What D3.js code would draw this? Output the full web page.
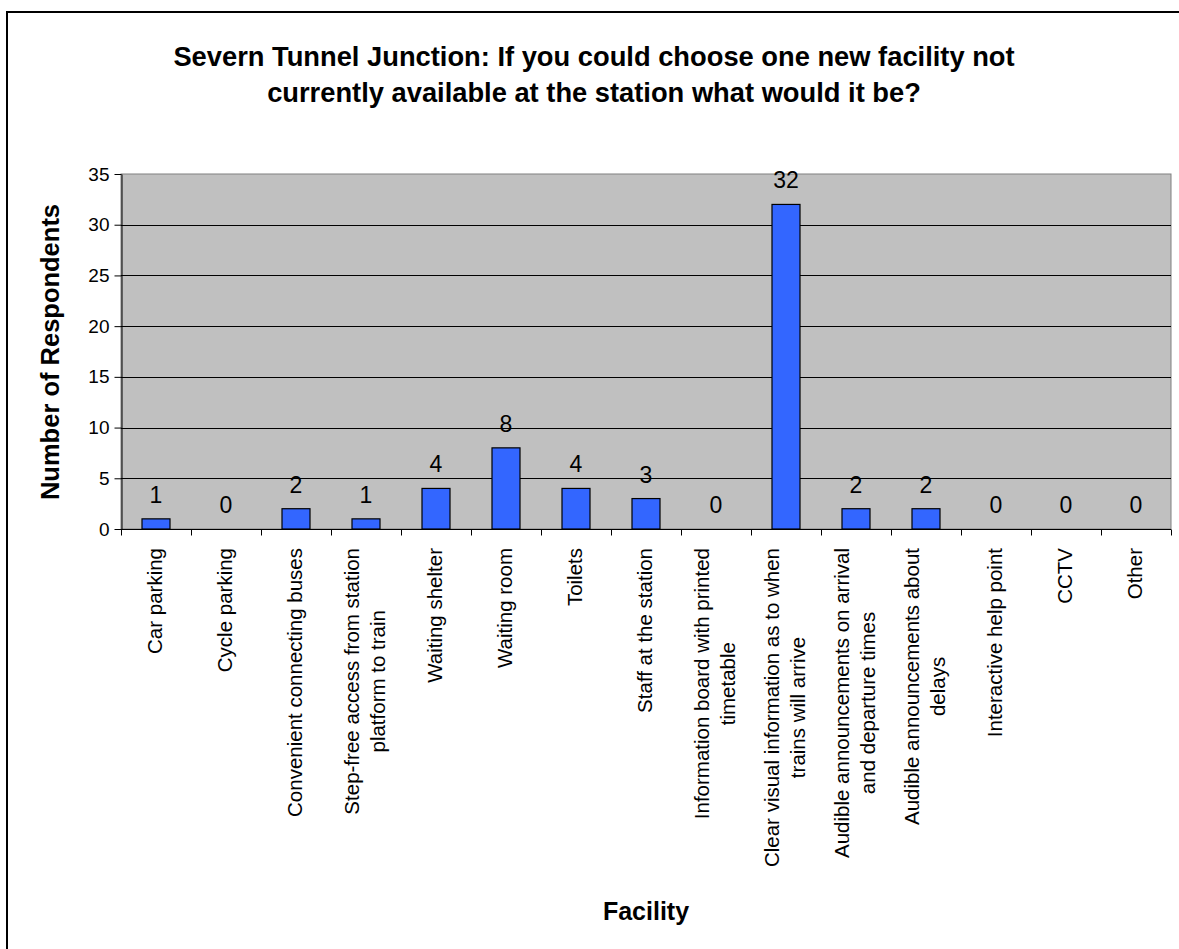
<!DOCTYPE html>
<html>
<head>
<meta charset="utf-8">
<script src="https://cdn.jsdelivr.net/npm/d3@7"></script>
<style>
  html, body { margin: 0; padding: 0; background: #ffffff; }
  svg { display: block; }
  text { font-family: "Liberation Sans", Arial, "DejaVu Sans", sans-serif; fill: #000; }
</style>
</head>
<body>
<svg id="chart" width="1179" height="949"></svg>
<script>
// Survey responses per facility (line breaks mark wrapped axis labels)
const categories = [
  "Car parking",
  "Cycle parking",
  "Convenient connecting buses",
  "Step-free access from station\nplatform to train",
  "Waiting shelter",
  "Waiting room",
  "Toilets",
  "Staff at the station",
  "Information board with printed\ntimetable",
  "Clear visual information as to when\ntrains will arrive",
  "Audible announcements on arrival\nand departure times",
  "Audible announcements about\ndelays",
  "Interactive help point",
  "CCTV",
  "Other"
];
const values = [1, 0, 2, 1, 4, 8, 4, 3, 0, 32, 2, 2, 0, 0, 0];
const yTicks = [0, 5, 10, 15, 20, 25, 30, 35];
const titleLines = [
  "Severn Tunnel Junction: If you could choose one new facility not",
  "currently available at the station what would it be?"
];
const yTitle = "Number of Respondents";
const xTitle = "Facility";

const svg = d3.select("#chart");

// Chart area frame
svg.append("rect")
  .attr("x", 7).attr("y", 12)
  .attr("width", 1200).attr("height", 960)
  .attr("fill", "#fff").attr("stroke", "#000").attr("stroke-width", 2);

const plot = { left: 121, right: 1171, top: 174, bottom: 529 };

const x = d3.scaleBand()
  .domain(d3.range(categories.length))
  .range([plot.left, plot.right])
  .paddingInner(0).paddingOuter(0);

const y = d3.scaleLinear()
  .domain([0, 35])
  .range([plot.bottom, plot.top]);

// Plot background
svg.append("rect")
  .attr("x", plot.left).attr("y", plot.top)
  .attr("width", plot.right - plot.left).attr("height", plot.bottom - plot.top)
  .attr("fill", "#c0c0c0").attr("stroke", "#808080").attr("stroke-width", 1);

// Horizontal gridlines
svg.append("g")
  .selectAll("line")
  .data(yTicks.filter(t => t > 0 && t < 35))
  .join("line")
  .attr("x1", plot.left).attr("x2", plot.right)
  .attr("y1", d => Math.round(y(d)) + 0.5).attr("y2", d => Math.round(y(d)) + 0.5)
  .attr("stroke", "#000").attr("stroke-width", 1);

// Y axis
const yAxis = svg.append("g")
  .attr("transform", `translate(${plot.left + 0.5},0)`)
  .call(d3.axisLeft(y).tickValues(yTicks).tickSize(7).tickPadding(5).tickSizeOuter(0));
yAxis.select(".domain").attr("stroke", "#000");
yAxis.selectAll(".tick line").attr("stroke", "#000");
yAxis.selectAll(".tick text")
  .attr("font-size", 19).attr("font-family", "Liberation Sans, Arial, sans-serif").attr("fill", "#000");

// X axis: ticks sit on category boundaries
const bw = x.bandwidth();
const xAxisG = svg.append("g")
  .attr("transform", `translate(0,${plot.bottom + 0.5})`);
xAxisG.append("line")
  .attr("x1", plot.left).attr("x2", plot.right)
  .attr("stroke", "#000");
xAxisG.selectAll("line.tk")
  .data(d3.range(categories.length + 1))
  .join("line")
  .attr("class", "tk")
  .attr("x1", i => Math.round(plot.left + i * bw) + 0.5)
  .attr("x2", i => Math.round(plot.left + i * bw) + 0.5)
  .attr("y1", 0).attr("y2", 6)
  .attr("stroke", "#000");

// Bars
svg.append("g")
  .selectAll("rect")
  .data(values)
  .join("rect")
  .attr("x", (d, i) => x(i) + bw * 0.3)
  .attr("width", bw * 0.4)
  .attr("y", d => y(d))
  .attr("height", d => y(0) - y(d))
  .attr("fill", "#3366ff")
  .attr("stroke", "#000").attr("stroke-width", 1.2);

// Value labels
svg.append("g")
  .selectAll("text")
  .data(values)
  .join("text")
  .attr("x", (d, i) => x(i) + bw / 2)
  .attr("y", d => y(d) - 16)
  .attr("text-anchor", "middle")
  .attr("font-size", 23)
  .text(d => d);

// Category labels, rotated, each block starting just under the axis
const labelTop = 548;
const labelSize = 20.5;
const lineStep = 26.5;
const catG = svg.append("g");
categories.forEach((c, i) => {
  const lines = c.split("\n");
  const g = catG.append("g")
    .attr("transform", `translate(${x(i) + bw / 2 - 1.5},0) rotate(-90)`);
  const texts = g.selectAll("text")
    .data(lines)
    .join("text")
    .attr("font-size", labelSize)
    .attr("text-anchor", "middle")
    .text(d => d);
  const maxLen = d3.max(texts.nodes(), n => n.getComputedTextLength());
  const n = lines.length;
  texts
    .attr("x", -(labelTop + maxLen / 2))
    .attr("y", (d, k) => (k - (n - 1) / 2) * lineStep + labelSize * 0.36);
});

// Axis titles
svg.append("text")
  .attr("transform", `translate(${50 + 9},352) rotate(-90)`)
  .attr("text-anchor", "middle")
  .attr("font-size", 25.5)
  .attr("font-weight", "bold")
  .text(yTitle);

svg.append("text")
  .attr("x", (plot.left + plot.right) / 2)
  .attr("y", 920)
  .attr("text-anchor", "middle")
  .attr("font-size", 25)
  .attr("font-weight", "bold")
  .text(xTitle);

// Chart title
svg.append("g")
  .selectAll("text")
  .data(titleLines)
  .join("text")
  .attr("x", 594)
  .attr("y", (d, i) => 66 + i * 36)
  .attr("text-anchor", "middle")
  .attr("font-size", 27.3)
  .attr("font-weight", "bold")
  .text(d => d);
</script>
</body>
</html>
